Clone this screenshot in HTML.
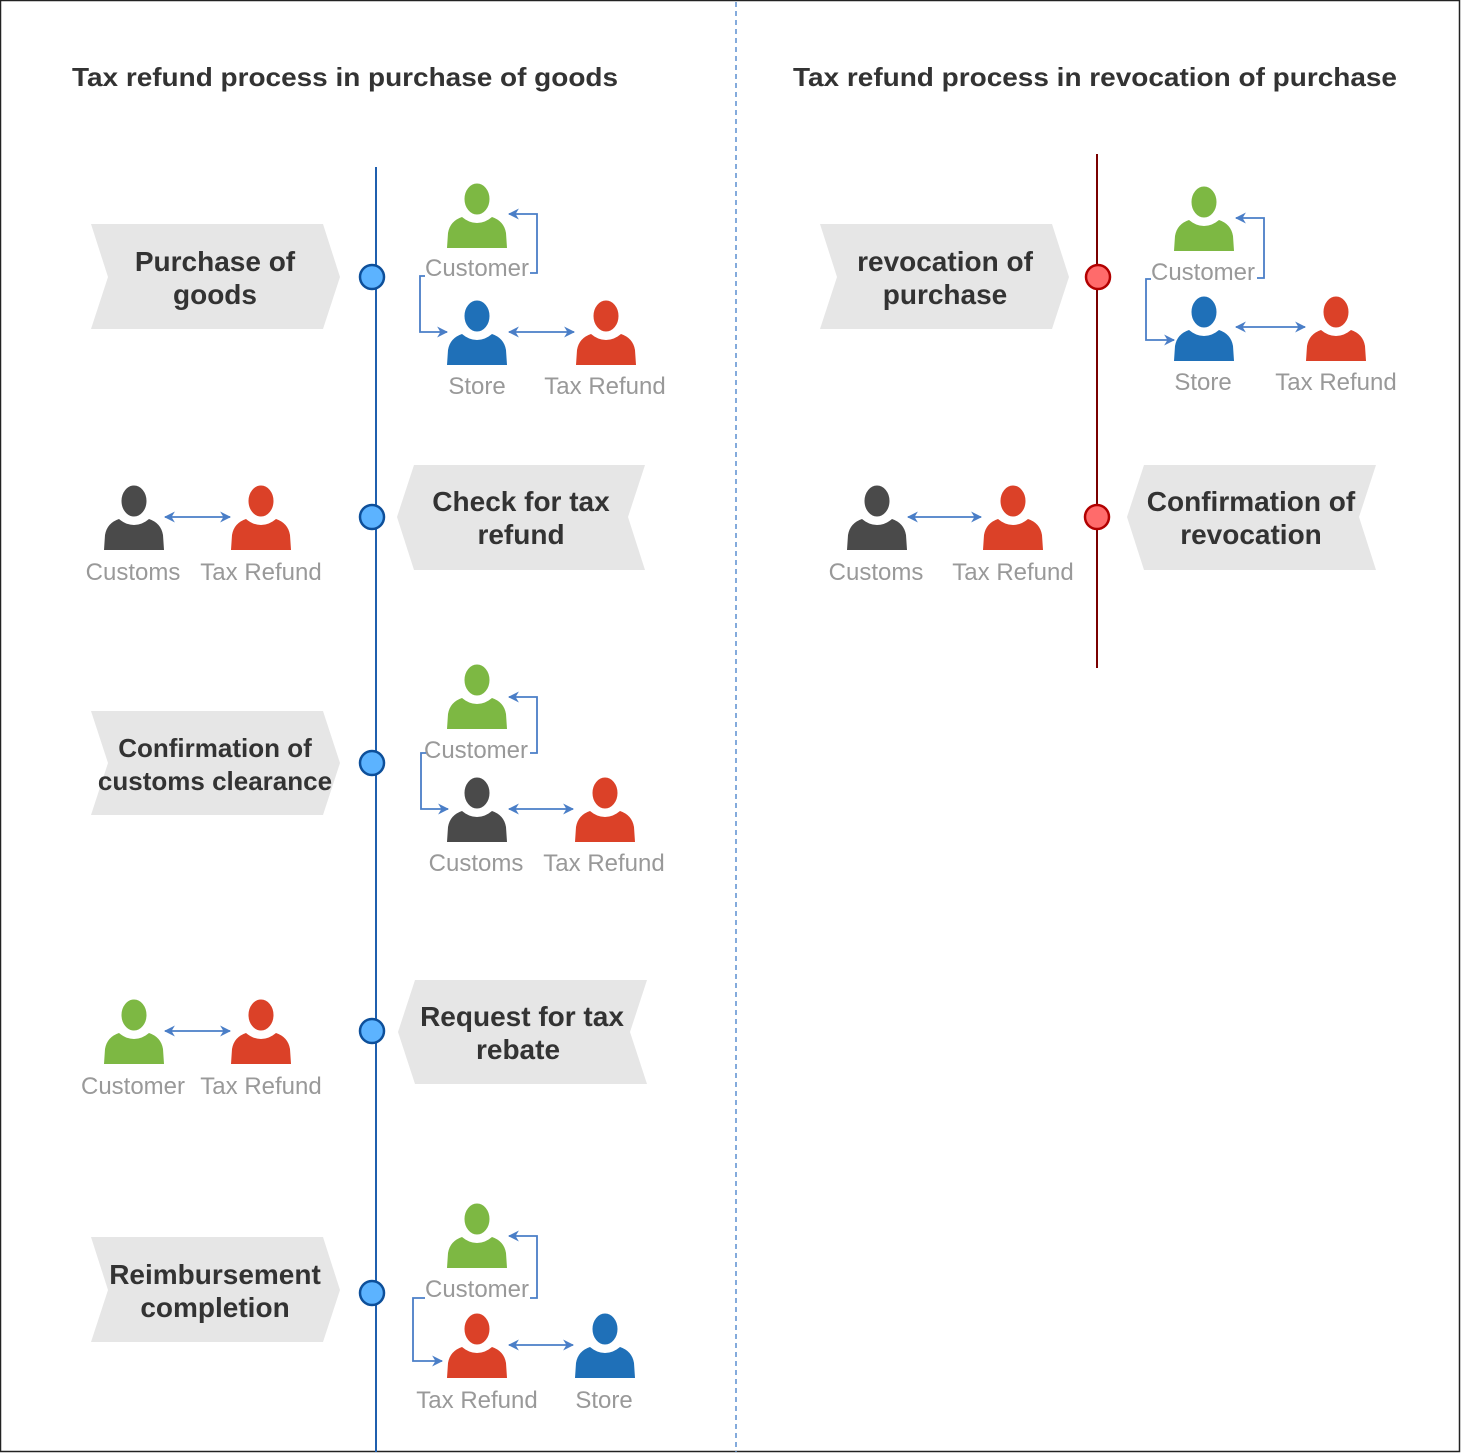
<!DOCTYPE html>
<html><head><meta charset="utf-8"><style>
html,body{margin:0;padding:0;background:#fff}
svg{display:block}
.t{font-family:"Liberation Sans",sans-serif;font-weight:bold;fill:#333;text-anchor:middle}
.l{font-family:"Liberation Sans",sans-serif;fill:#999;font-size:24px;text-anchor:middle}
.c{fill:none;stroke:#4a7ec7;stroke-width:1.8}
</style></head><body>
<svg width="1461" height="1454" viewBox="0 0 1461 1454" xmlns="http://www.w3.org/2000/svg">
<defs>
<symbol id="p" viewBox="0 0 60 65" overflow="visible">
<path d="M0,65 L1,50 Q3,38 15,34 Q22,40 30,40 Q38,40 45,34 Q57,38 59,50 L60,65 Z"/>
<ellipse cx="30" cy="16" rx="13.5" ry="16.5" stroke="#fff" stroke-width="2"/>
</symbol>
<marker id="a" viewBox="0 0 10 10" refX="9" refY="5" markerWidth="11" markerHeight="11" markerUnits="userSpaceOnUse" orient="auto-start-reverse"><path d="M0,0 L10,5 L0,10 L3,5 Z" fill="#4a7ec7"/></marker>
</defs>
<rect x="0.5" y="0.5" width="1459" height="1451" fill="#fff" stroke="#222" stroke-width="1.5"/>
<line x1="736" y1="2" x2="736" y2="1452" stroke="#5b8fd0" stroke-width="1.5" stroke-dasharray="5,4"/>

<text class="t" x="345" y="86" font-size="26" textLength="546" lengthAdjust="spacingAndGlyphs">Tax refund process in purchase of goods</text>
<text class="t" x="1095" y="86" font-size="26" textLength="604" lengthAdjust="spacingAndGlyphs">Tax refund process in revocation of purchase</text>

<line x1="376" y1="167" x2="376" y2="1452" stroke="#1f5fae" stroke-width="2"/>
<line x1="1097" y1="154" x2="1097" y2="668" stroke="#7a0000" stroke-width="2"/>

<g fill="#e6e6e6">
<polygon points="91,224 323,224 340,277 323,329 91,329 108,277"/>
<polygon points="414,465 645,465 628,517 645,570 414,570 397,517"/>
<polygon points="91,711 323,711 340,763 323,815 91,815 108,763"/>
<polygon points="415,980 647,980 630,1032 647,1084 415,1084 398,1032"/>
<polygon points="91,1237 323,1237 340,1290 323,1342 91,1342 108,1290"/>
<polygon points="820,224 1052,224 1069,277 1052,329 820,329 837,277"/>
<polygon points="1144,465 1376,465 1359,517 1376,570 1144,570 1127,517"/>
</g>
<g class="t" font-size="28">
<text x="215" y="271">Purchase of</text><text x="215" y="304">goods</text>
<text x="521" y="511">Check for tax</text><text x="521" y="544">refund</text>
<text x="215" y="757" font-size="26">Confirmation of</text><text x="215" y="790" font-size="26">customs clearance</text>
<text x="522" y="1026">Request for tax</text><text x="518" y="1059">rebate</text>
<text x="215" y="1284">Reimbursement</text><text x="215" y="1317">completion</text>
<text x="945" y="271">revocation of</text><text x="945" y="304">purchase</text>
<text x="1251" y="511">Confirmation of</text><text x="1251" y="544">revocation</text>
</g>

<g fill="#5cb3ff" stroke="#0d4f9a" stroke-width="2.5">
<circle cx="372" cy="277" r="12"/><circle cx="372" cy="517" r="12"/><circle cx="372" cy="763" r="12"/><circle cx="372" cy="1031" r="12"/><circle cx="372" cy="1293" r="12"/>
</g>
<g fill="#ff6b6b" stroke="#b20000" stroke-width="2.5">
<circle cx="1098" cy="277" r="12"/><circle cx="1097" cy="517" r="12"/>
</g>

<use href="#p" x="447" y="183" width="60" height="65" fill="#7db843"/>
<use href="#p" x="447" y="300" width="60" height="65" fill="#1f70b8"/>
<use href="#p" x="576" y="300" width="60" height="65" fill="#db4128"/>
<use href="#p" x="104" y="485" width="60" height="65" fill="#4a4a4a"/>
<use href="#p" x="231" y="485" width="60" height="65" fill="#db4128"/>
<use href="#p" x="447" y="664" width="60" height="65" fill="#7db843"/>
<use href="#p" x="447" y="777" width="60" height="65" fill="#4a4a4a"/>
<use href="#p" x="575" y="777" width="60" height="65" fill="#db4128"/>
<use href="#p" x="104" y="999" width="60" height="65" fill="#7db843"/>
<use href="#p" x="231" y="999" width="60" height="65" fill="#db4128"/>
<use href="#p" x="447" y="1203" width="60" height="65" fill="#7db843"/>
<use href="#p" x="447" y="1313" width="60" height="65" fill="#db4128"/>
<use href="#p" x="575" y="1313" width="60" height="65" fill="#1f70b8"/>
<use href="#p" x="1174" y="186" width="60" height="65" fill="#7db843"/>
<use href="#p" x="1174" y="296" width="60" height="65" fill="#1f70b8"/>
<use href="#p" x="1306" y="296" width="60" height="65" fill="#db4128"/>
<use href="#p" x="847" y="485" width="60" height="65" fill="#4a4a4a"/>
<use href="#p" x="983" y="485" width="60" height="65" fill="#db4128"/>

<g class="l">
<text x="477" y="276">Customer</text><text x="477" y="394">Store</text><text x="605" y="394">Tax Refund</text>
<text x="133" y="580">Customs</text><text x="261" y="580">Tax Refund</text>
<text x="476" y="758">Customer</text><text x="476" y="871">Customs</text><text x="604" y="871">Tax Refund</text>
<text x="133" y="1094">Customer</text><text x="261" y="1094">Tax Refund</text>
<text x="477" y="1297">Customer</text><text x="477" y="1408">Tax Refund</text><text x="604" y="1408">Store</text>
<text x="1203" y="280">Customer</text><text x="1203" y="390">Store</text><text x="1336" y="390">Tax Refund</text>
<text x="876" y="580">Customs</text><text x="1013" y="580">Tax Refund</text>
</g>

<g class="c">
<path d="M530,273 H537 V214 H509" marker-end="url(#a)"/>
<path d="M425,276 H420 V332 H447" marker-end="url(#a)"/>
<path d="M509,332 H574" marker-start="url(#a)" marker-end="url(#a)"/>
<path d="M165,517 H230" marker-start="url(#a)" marker-end="url(#a)"/>
<path d="M530,753 H537 V697 H509" marker-end="url(#a)"/>
<path d="M426,753 H421 V809 H448" marker-end="url(#a)"/>
<path d="M509,809 H573" marker-start="url(#a)" marker-end="url(#a)"/>
<path d="M165,1031 H230" marker-start="url(#a)" marker-end="url(#a)"/>
<path d="M530,1298 H537 V1236 H509" marker-end="url(#a)"/>
<path d="M425,1298 H413 V1361 H442" marker-end="url(#a)"/>
<path d="M509,1345 H573" marker-start="url(#a)" marker-end="url(#a)"/>
<path d="M1257,278 H1264 V218 H1236" marker-end="url(#a)"/>
<path d="M1151,279 H1146 V340 H1174" marker-end="url(#a)"/>
<path d="M1236,327 H1305" marker-start="url(#a)" marker-end="url(#a)"/>
<path d="M908,517 H981" marker-start="url(#a)" marker-end="url(#a)"/>
</g>
</svg>
</body></html>
